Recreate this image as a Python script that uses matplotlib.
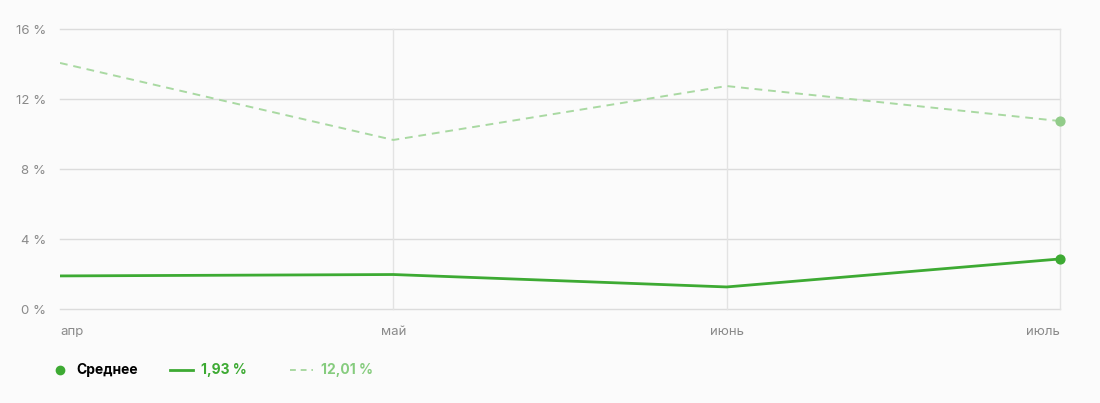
import matplotlib.pyplot as plt
import matplotlib.lines as mlines

# Данные
meses = ["апр", "май", "июнь", "июль"]
serie_media = [1.89, 1.97, 1.26, 2.86]
serie_superior = [14.06, 9.66, 12.74, 10.74]
yticks = [0, 4, 8, 12, 16]
legenda_media = "1,93 %"
legenda_superior = "12,01 %"

verde = "#3daa33"
verde_claro = "#a9d9a2"
fundo = "#fbfbfb"

plt.rcParams["font.family"] = ["Inter", "DejaVu Sans"]

fig = plt.figure(figsize=(11, 4.03), dpi=100, facecolor=fundo)
ax = fig.add_axes([60 / 1100, 94 / 403, 1000 / 1100, 280 / 403])
ax.set_facecolor(fundo)

x = list(range(len(meses)))

# Linhas das séries
ax.plot(x, serie_superior, color=verde_claro, lw=1.4, ls=(0, (4, 3)), zorder=3)
ax.plot(x, serie_media, color=verde, lw=2, zorder=4)
ax.scatter([x[-1]], [serie_superior[-1]], s=40, color="#92cc8a", zorder=5, clip_on=False)
ax.scatter([x[-1]], [serie_media[-1]], s=40, color=verde, zorder=5, clip_on=False)

ax.set_xlim(0, len(meses) - 1)
ax.set_ylim(0, 16)

# Grade
for v in yticks:
    ax.axhline(v, color="#dcdcdc", lw=1, zorder=1, clip_on=False)
for i in x[1:]:
    ax.axvline(i, color="#e3e3e3", lw=1, zorder=1, clip_on=False)

for s in ax.spines.values():
    s.set_visible(False)
ax.tick_params(length=0)

ax.set_yticks(yticks)
ax.set_yticklabels([f"{v} %" for v in yticks], color="#8a8a8a", fontsize=9.5)
ax.tick_params(axis="y", pad=10)

ax.set_xticks(x)
ax.set_xticklabels(meses, color="#8a8a8a", fontsize=9.5)
ax.tick_params(axis="x", pad=12)
rotulos = ax.get_xticklabels()
rotulos[0].set_ha("left")
rotulos[-1].set_ha("right")

# Legenda manual
yl = 1 - 370 / 403
fig.add_artist(mlines.Line2D([60 / 1100], [yl], marker="o", ms=6, color=verde, lw=0,
                             transform=fig.transFigure))
fig.text(76 / 1100, yl, "Среднее", fontsize=10, fontweight="bold", color="black", va="center")
fig.add_artist(mlines.Line2D([170 / 1100, 193 / 1100], [yl, yl], color=verde, lw=2,
                             transform=fig.transFigure))
fig.text(201 / 1100, yl, legenda_media, fontsize=10, fontweight="bold", color=verde, va="center")
fig.add_artist(mlines.Line2D([290 / 1100, 313 / 1100], [yl, yl], color=verde_claro, lw=1.4,
                             ls=(0, (3, 2.5)), transform=fig.transFigure))
fig.text(321 / 1100, yl, legenda_superior, fontsize=10, fontweight="bold", color="#86cc7e",
         va="center")

fig.savefig("out.png", dpi=100, facecolor=fundo)
